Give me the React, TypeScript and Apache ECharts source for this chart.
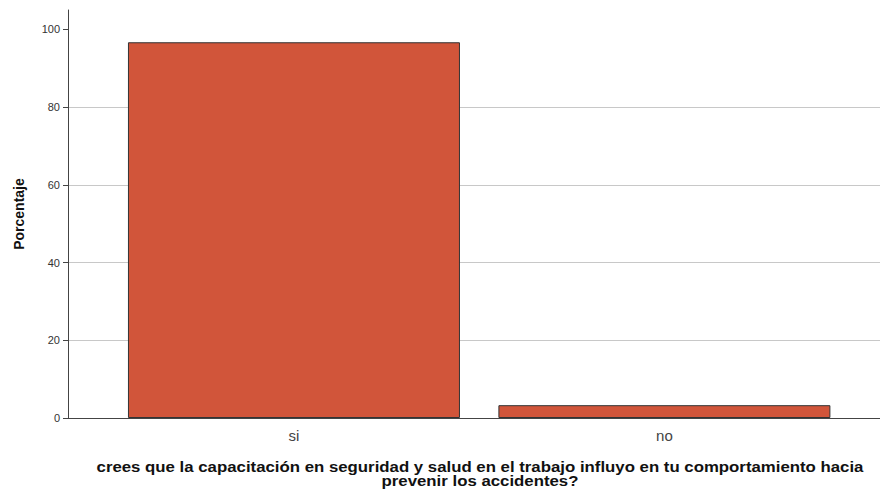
import React, { useEffect, useRef } from "react";
import * as echarts from "echarts";

const categories = ["si", "no"];
const percentages = [96.7, 3.3];
const yTicks = [0, 20, 40, 60, 80, 100];
const yTitle = "Porcentaje";
const xTitle =
  "crees que la capacitación en seguridad y salud en el trabajo influyo en tu comportamiento hacia\nprevenir los accidentes?";

export default function App() {
  const ref = useRef<HTMLDivElement>(null);
  useEffect(() => {
    if (!ref.current) return;
    const chart = echarts.init(ref.current, null, { renderer: "svg" });
    const positions = categories.map((_, i) => i);
    chart.setOption({
      animation: false,
      backgroundColor: "#ffffff",
      textStyle: { fontFamily: "Liberation Sans, Arial, sans-serif" },
      grid: { left: 68, right: 0, top: 10, bottom: 77, containLabel: false },
      xAxis: {
        type: "value",
        min: -0.61,
        max: 1.582,
        axisLine: { show: true, onZero: false, lineStyle: { color: "#444", width: 1 } },
        axisTick: { show: false },
        splitLine: { show: false },
        axisLabel: {
          customValues: positions,
          formatter: (v: number) => categories[Math.round(v)] ?? "",
          color: "#444",
          fontSize: 15,
          margin: 10,
        },
      },
      yAxis: {
        type: "value",
        min: 0,
        max: 105,
        interval: 20,
        axisLine: { show: true, onZero: false, lineStyle: { color: "#444", width: 1 } },
        axisTick: {
          show: true,
          customValues: yTicks,
          length: 5,
          lineStyle: { color: "#444" },
        },
        axisLabel: {
          customValues: yTicks,
          color: "#333",
          fontSize: 11,
          margin: 8,
        },
        splitLine: {
          show: true,
          showMinLine: false,
          showMaxLine: false,
          lineStyle: { color: "#c8c8c8", width: 1 },
        },
        name: yTitle,
        nameLocation: "middle",
        nameGap: 42,
        nameTextStyle: { fontWeight: "bold", fontSize: 14, color: "#111" },
      },
      series: [
        {
          type: "bar",
          data: positions.map((p, i) => [p, percentages[i]]),
          barWidth: 332,
          itemStyle: { color: "#d1553a", borderColor: "#333", borderWidth: 1 },
        },
      ],
      graphic: [
        {
          type: "text",
          x: 480,
          y: 460,
          scaleX: 1.2,
          originX: 0,
          style: {
            text: xTitle,
            textAlign: "center",
            fontWeight: "bold",
            fontSize: 14,
            lineHeight: 14,
            fill: "#111",
            fontFamily: "Liberation Sans, Arial, sans-serif",
          },
        },
      ],
    });
    return () => chart.dispose();
  }, []);
  return (
    <div
      ref={ref}
      style={{ position: "fixed", left: 0, top: 0, width: 880, height: 495 }}
    />
  );
}
